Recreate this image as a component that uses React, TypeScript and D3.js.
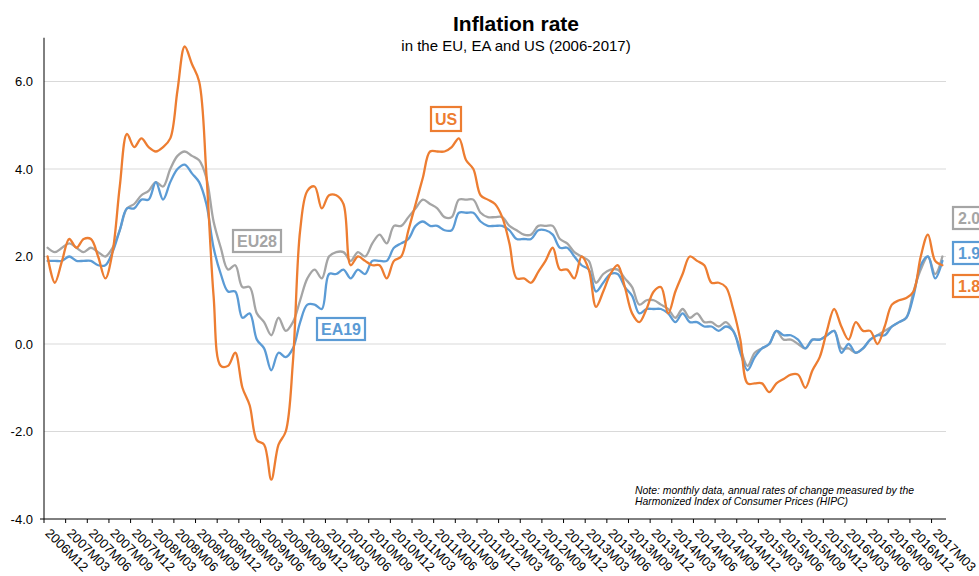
import React from "react";
import * as d3 from "d3";

const startYear = 2006;
const startMonth = 12;
const nMonths = 125;

const eu28 = [
  2.2,
  2.1, 2.2, 2.3, 2.2, 2.1, 2.2, 2.1, 2.0, 2.2, 2.6, 3.1, 3.2,
  3.4, 3.5, 3.7, 3.6, 4.0, 4.3, 4.4, 4.3, 4.2, 3.8, 2.8, 2.2,
  1.7, 1.8, 1.3, 1.3, 0.7, 0.5, 0.2, 0.6, 0.3, 0.5, 1.0, 1.5,
  1.7, 1.5, 2.0, 2.1, 2.1, 1.9, 2.1, 2.0, 2.3, 2.5, 2.3, 2.7,
  2.7, 2.9, 3.1, 3.3, 3.2, 3.1, 2.9, 2.9, 3.3, 3.3, 3.3, 3.0,
  2.9, 2.9, 2.9, 2.7, 2.6, 2.5, 2.5, 2.7, 2.7, 2.7, 2.4, 2.3,
  2.1, 2.0, 1.9, 1.4, 1.6, 1.7, 1.7, 1.5, 1.3, 0.9, 1.0, 1.0,
  0.9, 0.8, 0.6, 0.8, 0.6, 0.7, 0.5, 0.5, 0.4, 0.5, 0.3, -0.1,
  -0.5, -0.2, -0.1, 0.0, 0.3, 0.1, 0.1, 0.0, -0.1, 0.1, 0.1, 0.2,
  0.3, -0.1, -0.1, -0.2, -0.1, 0.1, 0.2, 0.3, 0.4, 0.5, 0.6, 1.2,
  1.7, 2.0, 1.6, 2.0,
];

const ea19 = [
  1.9,
  1.9, 1.9, 2.0, 1.9, 1.9, 1.9, 1.8, 1.8, 2.1, 2.6, 3.1, 3.1,
  3.3, 3.3, 3.7, 3.3, 3.7, 4.0, 4.1, 3.9, 3.7, 3.2, 2.2, 1.6,
  1.2, 1.2, 0.6, 0.7, 0.1, -0.1, -0.6, -0.2, -0.3, -0.1, 0.5, 0.9,
  0.9, 0.8, 1.6, 1.6, 1.7, 1.5, 1.7, 1.6, 1.9, 1.9, 1.9, 2.2,
  2.3, 2.4, 2.7, 2.8, 2.7, 2.7, 2.6, 2.6, 3.0, 3.0, 3.0, 2.8,
  2.7, 2.7, 2.7, 2.6, 2.4, 2.4, 2.4, 2.6, 2.6, 2.5, 2.2, 2.2,
  2.0, 1.8, 1.7, 1.2, 1.4, 1.6, 1.6, 1.3, 1.1, 0.7, 0.8, 0.8,
  0.8, 0.7, 0.5, 0.7, 0.5, 0.5, 0.4, 0.4, 0.3, 0.4, 0.3, -0.2,
  -0.6, -0.3, -0.1, 0.0, 0.3, 0.2, 0.2, 0.1, -0.1, 0.1, 0.1, 0.2,
  0.3, -0.2, 0.0, -0.2, -0.1, 0.1, 0.2, 0.2, 0.4, 0.5, 0.6, 1.1,
  1.8, 2.0, 1.5, 1.9,
];

const us = [
  2.0,
  1.4, 1.9, 2.4, 2.2, 2.4, 2.4, 2.0, 1.5, 2.1, 3.6, 4.8, 4.5,
  4.7, 4.5, 4.4, 4.5, 4.7, 5.8, 6.8, 6.4, 6.0, 3.9, 1.1, -0.5,
  -0.5, -0.2, -1.0, -1.4, -2.2, -2.3, -3.1, -2.3, -2.0, -0.4, 2.6, 3.5,
  3.6, 3.1, 3.4, 3.4, 3.2, 1.8, 2.0, 1.9, 1.8, 1.8, 1.5, 1.9,
  2.0, 2.6, 3.2, 3.8, 4.4, 4.4, 4.4, 4.5, 4.7, 4.2, 4.0, 3.4,
  3.3, 3.2, 2.9, 2.3, 1.5, 1.5, 1.4, 1.65, 1.9, 2.2, 1.7, 1.7,
  1.5, 2.0, 1.7, 0.85, 1.2, 1.6, 1.8, 1.3, 0.7, 0.5, 0.8, 1.2,
  1.3, 0.7, 1.2, 1.6, 2.0, 1.9, 1.8, 1.4, 1.4, 1.3, 0.8, 0.1,
  -0.9, -0.9, -0.9, -1.1, -0.9, -0.8, -0.7, -0.7, -1.0, -0.6, -0.3, 0.3,
  0.8, 0.4, 0.1, 0.5, 0.3, 0.3, 0.0, 0.4, 0.9, 1.0, 1.05, 1.2,
  2.0, 2.5, 1.9, 1.8,
];

const yTicks = [-4, -2, 0, 2, 4, 6];
const labelEvery = 3;

const categories: string[] = [];
for (let i = 0; i < nMonths; i++) {
  const m0 = startMonth - 1 + i;
  const yr = startYear + Math.floor(m0 / 12);
  const mo = (m0 % 12) + 1;
  categories.push(`${yr}M${String(mo).padStart(2, "0")}`);
}

const series = [
  { name: "EU28", values: eu28, color: "#a5a5a5" },
  { name: "EA19", values: ea19, color: "#5b9bd5" },
  { name: "US", values: us, color: "#ed7d31" },
];

const W = 979;
const H = 576;
const left = 44;
const right = 946;
const top = 37.75;
const bottom = 519;
const FONT = "'Liberation Sans', Arial, Helvetica, sans-serif";

export default function App() {
  const x = d3.scaleBand<string>().domain(categories).range([left, right]).paddingInner(0).paddingOuter(0);
  const y = d3.scaleLinear().domain([-4, 7]).range([bottom, top]);
  const cx = (i: number) => (x(categories[i]) as number) + x.bandwidth() / 2;

  const line = (vals: number[]) =>
    d3
      .line<number>()
      .x((_, i) => cx(i))
      .y((v) => y(v))
      .curve(d3.curveCatmullRom.alpha(0.5))(vals) as string;

  const tickIdx = categories.map((_, i) => i).filter((i) => i % labelEvery === 0);

  const boxLabel = (
    text: string,
    bx: number,
    by: number,
    bw: number,
    bh: number,
    color: string,
    anchor: "middle" | "start" = "middle"
  ) => (
    <g key={text + bx}>
      <rect x={bx} y={by} width={bw} height={bh} fill="#fff" stroke={color} strokeWidth={2.2} />
      <text
        x={anchor === "middle" ? bx + bw / 2 : bx + 5}
        y={by + bh / 2 + 6}
        textAnchor={anchor}
        fontFamily={FONT}
        fontWeight="bold"
        fontSize={16}
        fill={color}
      >
        {text}
      </text>
    </g>
  );

  return (
    <div style={{ position: "absolute", left: 0, top: 0 }}>
      <svg width={W} height={H} style={{ display: "block", background: "#fff" }}>
        {/* title */}
        <text x={516} y={31} textAnchor="middle" fontFamily={FONT} fontWeight="bold" fontSize={21} fill="#000">
          Inflation rate
        </text>
        <text x={516} y={51} textAnchor="middle" fontFamily={FONT} fontSize={15} fill="#000">
          in the EU, EA and US (2006-2017)
        </text>

        {/* gridlines */}
        {yTicks
          .filter((t) => t !== -4)
          .map((t) => (
            <line key={t} x1={left} x2={right} y1={y(t)} y2={y(t)} stroke="#d9d9d9" strokeWidth={1} />
          ))}

        {/* y labels */}
        {yTicks.map((t) => (
          <text
            key={"yl" + t}
            x={33}
            y={y(t) + 4.5}
            textAnchor="end"
            fontFamily={FONT}
            fontSize={13}
            fill="#000"
          >
            {t.toFixed(1)}
          </text>
        ))}

        {/* series */}
        {series.map((s) => (
          <path
            key={s.name}
            d={line(s.values)}
            fill="none"
            stroke={s.color}
            strokeWidth={2.3}
            strokeLinejoin="round"
            strokeLinecap="round"
          />
        ))}

        {/* axes */}
        <line x1={left} x2={left} y1={top} y2={bottom} stroke="#000" strokeWidth={1} />
        <line x1={40} x2={left} y1={bottom} y2={bottom} stroke="#000" strokeWidth={1} />
        <line x1={left} x2={right} y1={bottom} y2={bottom} stroke="#000" strokeWidth={1} />
        {tickIdx.map((i) => (
          <line
            key={"t" + i}
            x1={x(categories[i]) as number}
            x2={x(categories[i]) as number}
            y1={bottom}
            y2={bottom + 4}
            stroke="#000"
            strokeWidth={1}
          />
        ))}
        {tickIdx.map((i) => (
          <text
            key={"xl" + i}
            transform={`translate(${cx(i) - 3},${534}) rotate(45)`}
            fontFamily={FONT}
            fontSize={13}
            fill="#000"
          >
            {categories[i]}
          </text>
        ))}

        {/* note */}
        <text fontFamily={FONT} fontSize={10.4} fontStyle="italic" fill="#000">
          <tspan x={635} y={494}>Note: monthly data, annual rates of change measured by the</tspan>
          <tspan x={635} y={505}>Harmonized Index of Consumer Prices (HIPC)</tspan>
        </text>

        {/* series labels */}
        {boxLabel("EU28", 233, 230, 48, 22, "#a5a5a5")}
        {boxLabel("EA19", 317, 318, 48, 22, "#5b9bd5")}
        {boxLabel("US", 431, 107, 30, 24, "#ed7d31")}
        {boxLabel(eu28[eu28.length - 1].toFixed(1), 953, 207, 40, 22, "#a5a5a5", "start")}
        {boxLabel(ea19[ea19.length - 1].toFixed(1), 953, 242, 40, 22, "#5b9bd5", "start")}
        {boxLabel(us[us.length - 1].toFixed(1), 953, 275, 40, 22, "#ed7d31", "start")}
      </svg>
    </div>
  );
}
